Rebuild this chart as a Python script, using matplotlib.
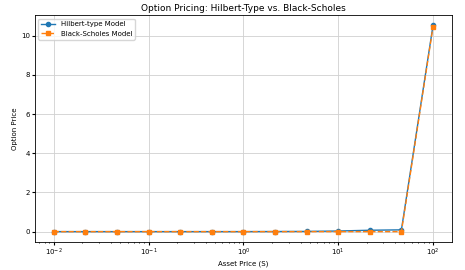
import numpy as np
import matplotlib.pyplot as plt

# asset prices (log spaced, 13 points from 0.01 to 100)
asset_prices = [0.01, 0.0215, 0.0464, 0.1, 0.215, 0.464, 1.0, 2.15, 4.64, 10.0, 21.5, 46.4, 100.0]
hilbert_prices = [0.0, 0.0, 0.0, 0.0, 0.0, 0.0, 0.0, 0.005, 0.01, 0.03, 0.07, 0.09, 10.52]
bs_prices = [0.0, 0.0, 0.0, 0.0, 0.0, 0.0, 0.0, 0.0, 0.0, 0.0, 0.0, 0.0, 10.45]

fig = plt.figure(figsize=(4.65, 2.7), dpi=100)
ax = fig.add_axes([0.075, 0.104, 0.897, 0.84])

ax.plot(asset_prices, hilbert_prices, marker="o", markersize=3, linewidth=1,
        color="#1f77b4", label="Hilbert-type Model")
ax.plot(asset_prices, bs_prices, marker="s", markersize=3, linewidth=1,
        linestyle="--", color="#ff7f0e", label="Black-Scholes Model")

ax.set_xscale("log")
ax.set_title("Option Pricing: Hilbert-Type vs. Black-Scholes", fontsize=6.5, pad=3)
ax.set_xlabel("Asset Price (S)", fontsize=5, labelpad=2)
ax.set_ylabel("Option Price", fontsize=5, labelpad=2)
ax.tick_params(labelsize=5, length=2, pad=1.5)
ax.tick_params(which="minor", length=1)
ax.grid(True, color="#d0d0d0", linewidth=0.6)
ax.legend(fontsize=5, loc="upper left", handlelength=2)
for s in ax.spines.values():
    s.set_linewidth(0.6)

fig.savefig("out.png", dpi=100)
